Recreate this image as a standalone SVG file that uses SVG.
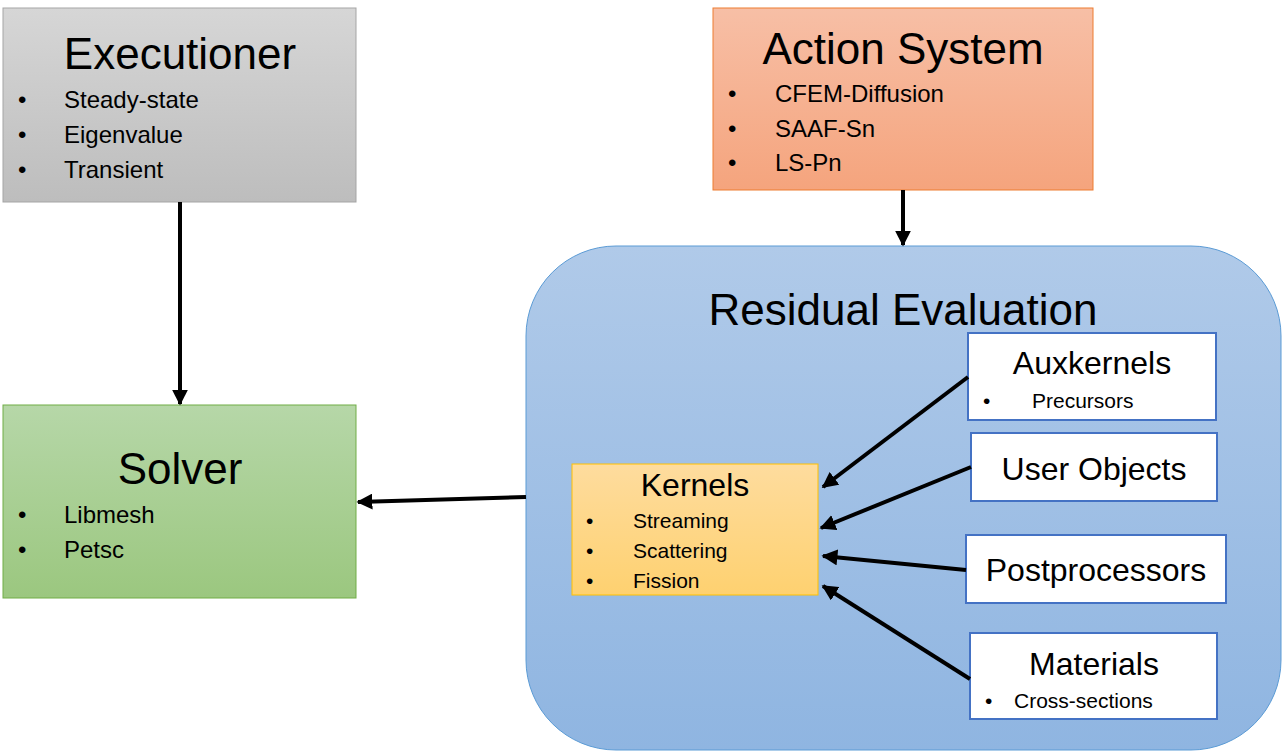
<svg xmlns="http://www.w3.org/2000/svg" width="1282" height="752" viewBox="0 0 1282 752">
<defs>
<linearGradient id="gGray" x1="0" y1="0" x2="0" y2="1"><stop offset="0" stop-color="#d6d6d6"/><stop offset="1" stop-color="#bdbdbd"/></linearGradient>
<linearGradient id="gOrange" x1="0" y1="0" x2="0" y2="1"><stop offset="0" stop-color="#f7bfa6"/><stop offset="1" stop-color="#f5a47d"/></linearGradient>
<linearGradient id="gGreen" x1="0" y1="0" x2="0" y2="1"><stop offset="0" stop-color="#b6d7a8"/><stop offset="1" stop-color="#9bc77f"/></linearGradient>
<linearGradient id="gBlue" x1="0" y1="0" x2="0" y2="1"><stop offset="0" stop-color="#b0cae9"/><stop offset="1" stop-color="#8fb5e1"/></linearGradient>
<linearGradient id="gYellow" x1="0" y1="0" x2="0" y2="1"><stop offset="0" stop-color="#fedc9e"/><stop offset="1" stop-color="#fed170"/></linearGradient>
<marker id="arr" viewBox="0 0 10 10" refX="9" refY="5" markerWidth="4" markerHeight="4" orient="auto" markerUnits="strokeWidth">
<path d="M0,0 L10,5 L0,10 Z" fill="#000"/>
</marker>
<style>
text{font-family:"Liberation Sans",Arial,sans-serif;fill:#000}
.title{font-size:44px;text-anchor:middle}
.item{font-size:24px}
.sub{font-size:32px;text-anchor:middle}
.small{font-size:21px}
.wbox{fill:#fff;stroke:#4472c4;stroke-width:2}
.conn{stroke:#000;stroke-width:4;fill:none;marker-end:url(#arr)}
</style>
</defs>
<rect width="1282" height="752" fill="#fff"/>

<g id="executioner">
<rect x="3" y="8" width="353" height="194" fill="url(#gGray)" stroke="#a5a5a5" stroke-width="1"/>
<text class="title" x="180" y="69">Executioner</text>
<text class="item" x="18" y="108">•</text><text class="item" x="64" y="108">Steady-state</text>
<text class="item" x="18" y="143">•</text><text class="item" x="64" y="143">Eigenvalue</text>
<text class="item" x="18" y="178">•</text><text class="item" x="64" y="178">Transient</text>
</g>

<g id="action-system">
<rect x="713" y="8" width="380" height="182" fill="url(#gOrange)" stroke="#ed7d31" stroke-width="1"/>
<text class="title" x="903" y="64">Action System</text>
<text class="item" x="728" y="102">•</text><text class="item" x="775" y="102">CFEM-Diffusion</text>
<text class="item" x="728" y="137">•</text><text class="item" x="775" y="137">SAAF-Sn</text>
<text class="item" x="728" y="171">•</text><text class="item" x="775" y="171">LS-Pn</text>
</g>

<g id="residual-evaluation">
<rect x="526" y="246" width="755" height="504" rx="90" ry="90" fill="url(#gBlue)" stroke="#5b9bd5" stroke-width="1"/>
<text class="title" x="903" y="325">Residual Evaluation</text>
</g>

<g id="solver">
<rect x="3" y="405" width="353" height="193" fill="url(#gGreen)" stroke="#70ad47" stroke-width="1"/>
<text class="title" x="180" y="484">Solver</text>
<text class="item" x="18" y="523">•</text><text class="item" x="64" y="523">Libmesh</text>
<text class="item" x="18" y="558">•</text><text class="item" x="64" y="558">Petsc</text>
</g>

<g id="kernels">
<rect x="572" y="464" width="246" height="131" fill="url(#gYellow)" stroke="#ffc000" stroke-width="1"/>
<text class="sub" x="695" y="496">Kernels</text>
<text class="small" x="586" y="528">•</text><text class="small" x="633" y="528">Streaming</text>
<text class="small" x="586" y="558">•</text><text class="small" x="633" y="558">Scattering</text>
<text class="small" x="586" y="588">•</text><text class="small" x="633" y="588">Fission</text>
</g>

<g id="auxkernels">
<rect class="wbox" x="968" y="333" width="248" height="87"/>
<text class="sub" x="1092" y="374">Auxkernels</text>
<text class="small" x="983" y="408">•</text><text class="small" x="1032" y="408">Precursors</text>
</g>

<g id="user-objects">
<rect class="wbox" x="971" y="433" width="246" height="68"/>
<text class="sub" x="1094" y="480">User Objects</text>
</g>

<g id="postprocessors">
<rect class="wbox" x="966" y="535" width="260" height="68"/>
<text class="sub" x="1096" y="581">Postprocessors</text>
</g>

<g id="materials">
<rect class="wbox" x="970" y="633" width="247" height="86"/>
<text class="sub" x="1094" y="675">Materials</text>
<text class="small" x="985" y="708">•</text><text class="small" x="1014" y="708">Cross-sections</text>
</g>

<g id="connectors">
<line class="conn" x1="180" y1="202" x2="180" y2="404"/>
<line class="conn" x1="903" y1="190" x2="903" y2="245"/>
<line class="conn" x1="526" y1="497" x2="358" y2="502"/>
<line class="conn" x1="968" y1="377" x2="823" y2="487"/>
<line class="conn" x1="971" y1="467" x2="821" y2="528"/>
<line class="conn" x1="966" y1="570" x2="823" y2="556"/>
<line class="conn" x1="970" y1="679" x2="823" y2="586"/>
</g>
</svg>
